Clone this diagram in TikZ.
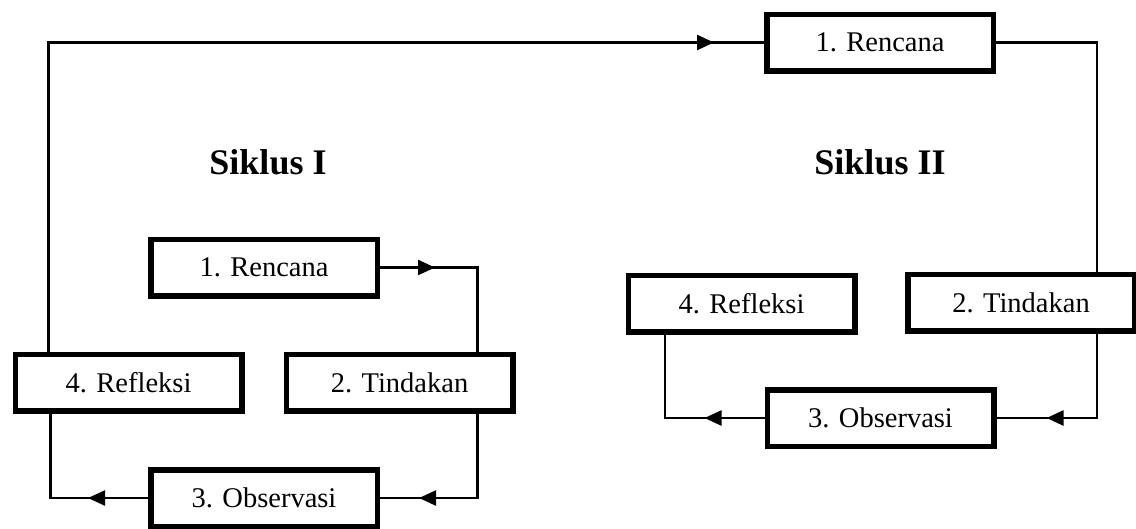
\documentclass[tikz,border=0pt]{standalone}
\usepackage{fontspec}
\setmainfont{Liberation Serif}
\usetikzlibrary{arrows.meta,decorations.markings,calc}
\begin{document}
\begin{tikzpicture}[x=1pt,y=-1pt,
  box/.style={draw,line width=5.5pt,minimum width=226.5pt,minimum height=56.5pt,inner sep=0pt,
    font=\fontsize{28.5}{32}\selectfont, fill=white},
  title/.style={font=\fontsize{36}{42}\selectfont\bfseries},
  conn/.style={line width=2.4pt},
  tipat/.style={postaction={decorate},decoration={markings,
    mark=at position #1 with {\arrow{Triangle[length=17pt,width=15pt]}}}}]
\path[use as bounding box,fill=white] (0,0) rectangle (1136,528);
% nodes
\node[box] (R2) at (880,42.5) {1. Rencana};
\node[box] (R1) at (264,267.5) {1. Rencana};
\node[box] (F1) at (128.5,382.5) {4. Refleksi};
\node[box] (T1) at (399.5,382.5) {2. Tindakan};
\node[box] (O1) at (264,498) {3. Observasi};
\node[box] (F2) at (741.5,303.5) {4. Refleksi};
\node[box] (T2) at (1021,302.5) {2. Tindakan};
\node[box] (O2) at (880.5,418) {3. Observasi};
\node[title] (S1) at (268,162) {Siklus I};
\node[title] (S2) at (880,162) {Siklus II};
% connectors
\draw[conn,tipat=55pt] (R1.east) -| ([xshift=78pt]T1.north);
\draw[conn,tipat=-39pt] ([xshift=78pt]T1.south) |- (O1.east);
\draw[conn,tipat=60pt] (O1.west) -| ([xshift=-78pt]F1.south);
\draw[conn,tipat=-50pt] ([xshift=-80pt]F1.north) |- (R2.west);
\draw[conn] (R2.east) -| ([xshift=76pt]T2.north);
\draw[conn,tipat=-50pt] ([xshift=76pt]T2.south) |- (O2.east);
\draw[conn,tipat=60pt] (O2.west) -| ([xshift=-76.5pt]F2.south);
\end{tikzpicture}
\end{document}
